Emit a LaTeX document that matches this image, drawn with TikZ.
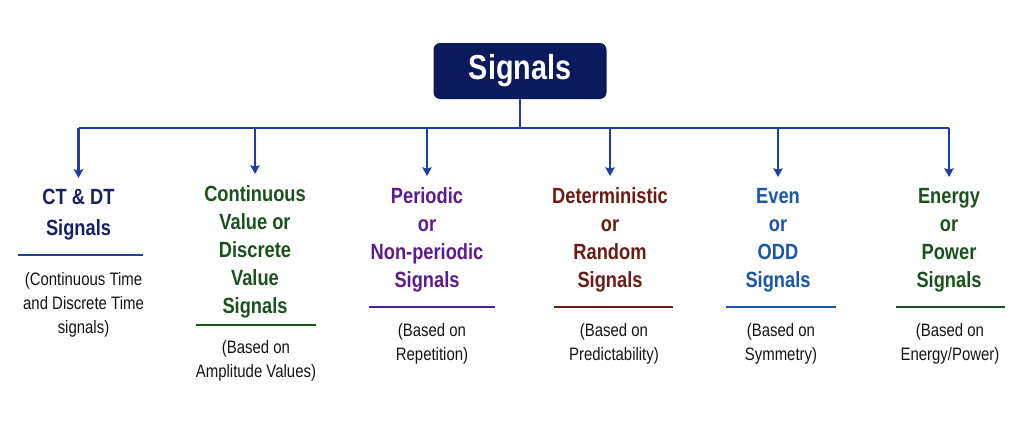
\documentclass[tikz,border=0pt]{standalone}
\usepackage{fontspec}
\setmainfont{Liberation Sans}
\newfontfamily\narrowsans[FakeStretch=0.83]{Liberation Sans}
\usepackage{tikz}
\usetikzlibrary{arrows.meta, positioning}
\definecolor{marino}{RGB}{11, 26, 92}
\definecolor{azul}{RGB}{32, 62, 162}
\definecolor{tinta}{RGB}{20, 20, 24}
\definecolor{ctdt}{RGB}{24, 32, 100}
\definecolor{verde}{RGB}{26, 82, 30}
\definecolor{morado}{RGB}{92, 28, 138}
\definecolor{granate}{RGB}{104, 28, 18}
\definecolor{celeste}{RGB}{28, 84, 166}
\tikzset{
    root/.style={rectangle, rounded corners=5pt, fill=marino, text=white, minimum width=129.75pt, minimum height=42pt, font=\narrowsans\bfseries\fontsize{26}{30}\selectfont},
    cat/.style={anchor=north, align=center, inner sep=0pt, font=\narrowsans\bfseries\fontsize{16.5}{21}\selectfont},
    note/.style={anchor=north, align=center, inner sep=0pt, text=tinta, font=\narrowsans\fontsize{13.5}{18.2}\selectfont},
    conn/.style={-, azul, line width=1.8pt},
    arr/.style={-{Stealth[length=6.5pt, width=7pt, inset=1pt]}, azul, line width=1.8pt, shorten >=8.25pt},
    rule/.style={line width=1.5pt},
}
\begin{document}
\begin{tikzpicture}[x=0.75pt, y=-0.75pt]
            \useasboundingbox (0,0) rectangle (1024,436);

            \node[root] (sig) at (520, 71) {Signals};

            % categories
            \node[cat, text=ctdt, font=\narrowsans\bfseries\fontsize{16.5}{23}\selectfont] (t1) at (78.5, 189) {CT \& DT\\Signals};
            \node[cat, text=verde] (t2) at (255, 185) {Continuous\\Value or\\Discrete\\Value\\Signals};
            \node[cat, text=morado] (t3) at (427, 187) {Periodic\\or\\Non-periodic\\Signals};
            \node[cat, text=granate] (t4) at (610, 187) {Deterministic\\or\\Random\\Signals};
            \node[cat, text=celeste] (t5) at (778, 188) {Even\\or\\ODD\\Signals};
            \node[cat, text=verde] (t6) at (949, 188) {Energy\\or\\Power\\Signals};

            \draw[rule, azul] (18,255) -- (143,255);
            \draw[rule, verde] (196,325) -- (316,325);
            \draw[rule, morado] (369,307) -- (495,307);
            \draw[rule, granate] (554,307) -- (673,307);
            \draw[rule, celeste] (726,307) -- (836,307);
            \draw[rule, verde] (896,307) -- (1005,307);

            \node[note] (n1) at (83.5, 272) {(Continuous Time\\and Discrete Time\\signals)};
            \node[note] (n2) at (256, 340) {(Based on\\Amplitude Values)};
            \node[note] (n3) at (432, 323) {(Based on\\Repetition)};
            \node[note] (n4) at (614, 323) {(Based on\\Predictability)};
            \node[note] (n5) at (781, 323) {(Based on\\Symmetry)};
            \node[note] (n6) at (950, 323) {(Based on\\Energy/Power)};

            \coordinate (bar) at (520, 128);
            \coordinate (a1) at (t1.north |- bar);
            \coordinate (a2) at (t2.north |- bar);
            \coordinate (a3) at (t3.north |- bar);
            \coordinate (a4) at (t4.north |- bar);
            \coordinate (a5) at (t5.north |- bar);
            \coordinate (a6) at (t6.north |- bar);

            \draw[conn] (sig.south) -- (bar);
            \draw[conn] (a1) -- (a6);
            \draw[arr] (a1) -- (t1.north);
            \draw[arr] (a2) -- (t2.north);
            \draw[arr] (a3) -- (t3.north);
            \draw[arr] (a4) -- (t4.north);
            \draw[arr] (a5) -- (t5.north);
            \draw[arr] (a6) -- (t6.north);
        \end{tikzpicture}
\end{document}
